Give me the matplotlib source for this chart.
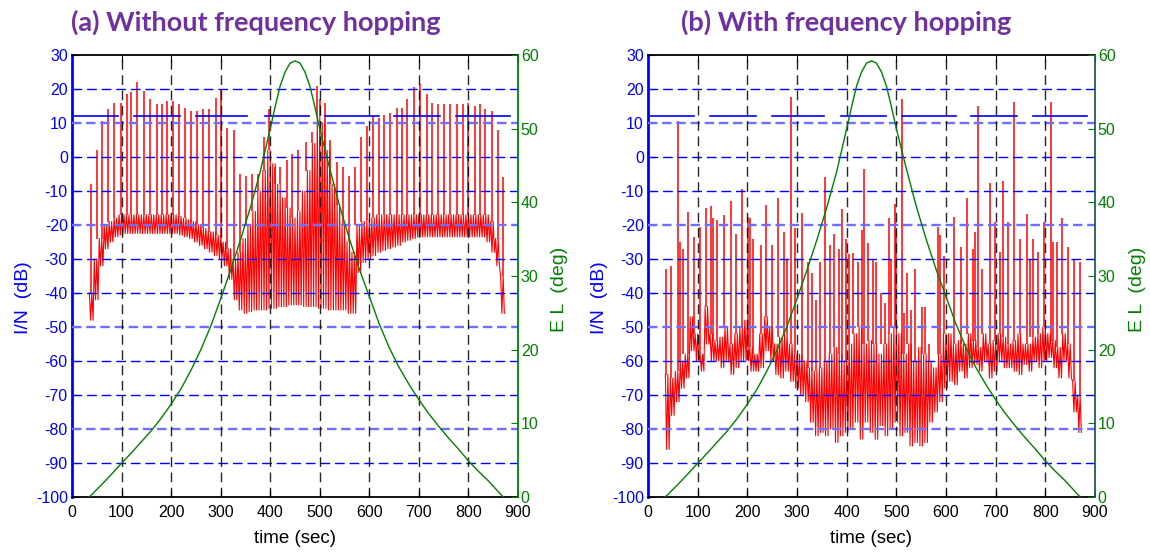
import numpy as np
import matplotlib
matplotlib.use("Agg")
import matplotlib.pyplot as plt

# ---------------- data ----------------
# Satellite elevation (deg) versus time (sec)
el_t = [35, 60, 80, 100, 120, 140, 160, 180, 200, 220, 240, 260, 280, 300, 320, 340, 360,
        380, 400, 410, 420, 430, 440, 450, 460, 470, 480, 490, 500, 520, 540, 560, 580,
        600, 620, 640, 660, 680, 700, 720, 740, 760, 780, 800, 820, 840, 855, 870]
el_deg = [0, 1.7, 3.1, 4.6, 6.0, 7.5, 9.0, 10.7, 12.6, 14.7, 17.2, 20.0, 23.2, 26.9, 30.8, 34.9, 39.3,
          44.2, 50.0, 53.0, 55.8, 57.7, 58.9, 59.2, 58.9, 57.7, 55.8, 53.0, 50.0, 44.6, 39.5, 35.0, 30.9,
          27.2, 23.5, 20.3, 17.6, 15.3, 13.2, 11.3, 9.6, 8.0, 6.5, 4.9, 3.5, 2.2, 1.1, 0]

# Background interference band, sampled every 10 s (t = 35 ... 865)
band_t = list(range(35, 866, 10))

# (a) without hopping: upper / lower edge of the I/N band (dB)
a_upper = [-40, -30, -24, -20, -19, -18, -17, -17, -17, -17, -17, -17, -17, -17, -17,
           -17, -17, -17, -17.5, -18, -18.5, -19, -20, -21, -22, -22, -23, -25, -27, -30,
           -28, -24, -20, -16, -10, -4, 2, -2, -8, -12, -15, -18, -16, -10, -4,
           4, 12, 10, 2, -8, -14, -20, -25, -28, -20, -19, -18.5, -18, -17, -17,
           -17, -17, -17, -17, -17, -17, -17, -17, -17, -17, -17, -17, -17, -17, -17,
           -17, -17, -17, -17, -17, -17, -19, -24, -35]
a_lower = [-48, -42, -32, -27, -25, -23.5, -23, -22.5, -22.5, -22.5, -22.5, -22.5, -22.5, -22.5, -22.5,
           -22.5, -22.5, -22.5, -23, -23.5, -24, -25, -26, -27, -28, -29, -30, -32, -36, -42,
           -45, -46, -45.5, -45, -45, -45, -44.5, -44.5, -44, -44, -43.5, -43.5, -43.5, -44, -44,
           -44, -44.5, -44.5, -45, -45, -45, -45, -46, -46, -34, -31, -30, -29, -28, -27.5,
           -27, -26.5, -26, -25, -24.5, -24, -23.5, -23.5, -23.5, -23.5, -23.5, -23.5, -23.5, -23.5, -23.5,
           -23.5, -23.5, -23.5, -23.5, -23.5, -25, -28, -32, -46]

# (a) periodic interference peaks: time (sec), peak I/N (dB)
a_spike_t = [38, 50, 60, 73, 85, 98, 110, 120, 132, 145, 157, 171, 181, 192, 204, 216, 229,
             241, 253, 265, 277, 290, 300, 312, 326, 339, 351, 364, 376, 387, 398, 410, 420,
             433, 444, 457, 473, 485, 494, 500, 510, 521, 534, 547, 558, 571, 584, 596, 607,
             619, 630, 642, 655, 665, 677, 690, 702, 716, 727, 739, 751, 763, 776, 789, 800,
             813, 823, 833, 847, 860, 870]
a_spike_db = [-8, 2, 10.5, 14, 16, 16, 18.5, 19, 22, 19.5, 17, 15.5, 15.5, 16.5, 16.5, 15.5, 14.5,
              13.5, 13.5, 14, 14, 17.5, 20, 8.5, 8, -5, -5.5, -5, -5, 6, 14, -3, -3,
              -1, 1, 2, 4.5, 7.5, 21, 17, 16, 5, -1.5, -3, -5.5, -3, 6, 9, 12,
              11.5, 12.5, 13, 14.5, 14.5, 17, 20.5, 21.5, 18.5, 16, 15.5, 15.5, 15.5, 15.5, 15.5, 16,
              15, 15.5, 14, 13.5, 8, -6]

# (b) with hopping: upper / lower edge of the I/N trace (dB)
b_upper = [-64, -65, -63, -60, -58, -47, -52, -58, -44, -52, -54, -53, -50, -55, -52,
           -50, -48, -56, -58, -52, -47, -50, -55, -53, -52, -55, -58, -58, -60, -62,
           -63, -62, -60, -58, -56, -58, -60, -55, -52, -50, -55, -54, -55, -58, -55,
           -52, -50, -52, -58, -55, -60, -56, -58, -60, -62, -58, -52, -52, -55, -54,
           -55, -52, -54, -56, -52, -55, -54, -52, -53, -55, -54, -52, -55, -55, -53,
           -52, -50, -52, -54, -56, -52, -55, -66, -70]
b_lower = [-86, -76, -72, -68, -65, -57, -60, -63, -55, -60, -60, -62, -60, -64, -62,
           -60, -60, -63, -63, -62, -57, -60, -64, -65, -63, -66, -68, -70, -72, -78,
           -82, -81, -82, -80, -84, -82, -81, -80, -78, -83, -78, -81, -83, -79, -82,
           -80, -78, -82, -81, -85, -84, -85, -84, -78, -75, -72, -68, -66, -67, -63,
           -65, -62, -61, -63, -60, -65, -63, -60, -62, -62, -63, -64, -61, -63, -60,
           -62, -60, -59, -62, -65, -60, -65, -75, -81]

# (b) residual interference peaks: time (sec), peak I/N (dB)
b_spike_t = [37, 46, 60, 64, 70, 80, 93, 105, 117, 127, 131, 139, 154, 167, 177, 189, 201,
             206, 211, 228, 238, 250, 262, 274, 279, 287, 296, 310, 322, 331, 339, 347, 357,
             366, 375, 385, 391, 398, 404, 413, 423, 430, 435, 442, 453, 460, 470, 477, 485,
             490, 497, 500, 512, 515, 522, 530, 538, 551, 558, 565, 584, 588, 595, 617, 631,
             642, 654, 658, 665, 673, 689, 698, 708, 714, 725, 737, 748, 763, 770, 775, 785,
             798, 811, 815, 823, 833, 845, 858, 870]
b_spike_db = [-33, -32, 10.5, -25, -27, -16.2, -23.4, -20.5, -15, -14.5, -18, -18.5, -17, -13, -22.5, -9.4, -17.5,
              -18, -24, -26, -14, -26, -12, -22, -30, 17.7, -21, -16.6, -31, -34, -42, -31, -5.8,
              -26, -22.5, -27, -15.3, -24, -28.5, -28.3, -31, -21.5, -3.5, -25.4, -30, -30.8, -40, -43, -18,
              -30, -13.8, -21.5, 17, -46, -34, -45, -33, -44, -44, -55, -20.5, -23, -29, -17.6, -26.4,
              -12.2, -27, -22, 15, -33, -7.7, -19, -28, -7, -19, 16.3, -24, -16.8, -30, -24, -28,
              -19, 16.3, -25, -25, -18, -26.4, -30.3, -31]

# Interference threshold (dB) and the time windows where it is shown
thr_db = 12
thr_windows = [(0, 93), (125, 217), (250, 354), (389, 479), (511, 620), (650, 743), (775, 884)]

db_ticks = list(range(-100, 31, 10))
el_ticks = list(range(0, 61, 10))
t_ticks = list(range(0, 901, 100))

titles = ["(a) Without frequency hopping", "(b) With frequency hopping"]

# ---------------- drawing ----------------
plt.rcParams['font.family'] = ['Liberation Sans', 'DejaVu Sans']
plt.rcParams['axes.unicode_minus'] = False

W, H = 1150, 557
fig = plt.figure(figsize=(W / 100, H / 100), dpi=100)

BLUE = '#0000ff'
GREEN = '#008000'
RED = '#ff0000'
PURPLE = '#7030a0'
TICK_FS = 11.5
LAB_FS = 13.5


def band_trace(t, up, lo, reps):
    """Zig-zag between the upper and lower band edge inside each 10 s sample."""
    t = np.asarray(t, float)
    up = np.asarray(up, float)
    lo = np.asarray(lo, float)
    offs = np.arange(2 * reps) * (10.0 / (2 * reps))
    tt = (t[:, None] + offs[None, :]).ravel()
    yy = np.where(np.arange(2 * reps) % 2 == 0, up[:, None], lo[:, None]).ravel()
    return tt, yy


def panel(rect, up, lo, sp_t, sp_db, reps, right_spine):
    ax = fig.add_axes(rect)
    ax.set_xlim(0, 900)
    ax.set_ylim(-100, 30)

    # interference band
    tt, yy = band_trace(band_t, up, lo, reps)
    ax.plot(tt, yy, color=RED, lw=0.8, zorder=2)
    # peaks rising from the band
    idx = np.clip(np.round((np.asarray(sp_t) - band_t[0]) / 10).astype(int), 0, len(band_t) - 1)
    base = np.asarray(up, float)[idx]
    ax.vlines(sp_t, np.minimum(base, sp_db), sp_db, color=RED, lw=1.1, zorder=2)

    # threshold segments
    for (t0, t1) in thr_windows:
        ax.plot([t0, min(t1, 900)], [thr_db, thr_db], color=BLUE, lw=1.2, zorder=3)

    # grid: blue horizontal, black vertical
    for v in db_ticks[1:-1]:
        light = v in (10, -20, -50, -80)
        ax.axhline(v, color='#6f6fff' if light else BLUE, lw=1.7 if light else 1.0,
                   ls=(0, (7, 3.5)) if not light else (0, (4, 2)), zorder=4)
    for v in t_ticks[1:-1]:
        ax.axvline(v, color='#000000', lw=1.0, ls=(0, (7, 4)), zorder=4, alpha=0.85)

    ax.set_yticks(db_ticks)
    ax.set_xticks(t_ticks)
    ax.tick_params(axis='y', direction='in', colors=BLUE, labelsize=TICK_FS, length=5, pad=3)
    ax.tick_params(axis='x', direction='in', colors='black', labelsize=TICK_FS, length=5, pad=6,
                   top=True)
    for lab in ax.get_yticklabels():
        lab.set_color(BLUE)
    ax.spines['left'].set_color(BLUE)
    ax.spines['left'].set_linewidth(2.0)
    ax.spines['top'].set_linewidth(1.3)
    ax.spines['bottom'].set_linewidth(1.3)
    ax.spines['right'].set_visible(False)
    ax.set_xlabel('time (sec)', fontsize=LAB_FS, labelpad=7)
    ax.set_ylabel('I/N  (dB)', fontsize=LAB_FS + 0.5, color=BLUE, labelpad=2)
    ax.yaxis.set_label_coords(-0.089, 0.45)

    ax2 = ax.twinx()
    ax2.set_ylim(0, 60)
    ax2.set_yticks(el_ticks)
    ax2.plot(el_t, el_deg, color=GREEN, lw=1.0, zorder=5)
    ax2.tick_params(axis='y', direction='in', colors=GREEN, labelsize=TICK_FS, length=5, pad=2)
    for lab in ax2.get_yticklabels():
        lab.set_color(GREEN)
    for s in ('left', 'top', 'bottom'):
        ax2.spines[s].set_visible(False)
    ax2.spines['right'].set_color(right_spine)
    ax2.spines['right'].set_linewidth(1.3)
    ax2.set_ylabel('E L  (deg)', fontsize=LAB_FS + 0.5, color=GREEN, labelpad=4)
    ax2.yaxis.set_label_coords(1.075, 0.47)
    return ax


axA = panel([72 / W, 60 / H, 446 / W, 442 / H], a_upper, a_lower, a_spike_t, a_spike_db, 2, GREEN)
axB = panel([648 / W, 60 / H, 447 / W, 442 / H], b_upper, b_lower, b_spike_t, b_spike_db, 2, '#1f5f55')

fig.text(256 / W, 1 - 22 / H, titles[0], color=PURPLE, fontsize=19.5, fontweight='bold',
         family=['Lato', 'DejaVu Sans'], ha='center', va='center')
fig.text(846 / W, 1 - 22 / H, titles[1], color=PURPLE, fontsize=19.5, fontweight='bold',
         family=['Lato', 'DejaVu Sans'], ha='center', va='center')

fig.savefig('out.png', dpi=100)
